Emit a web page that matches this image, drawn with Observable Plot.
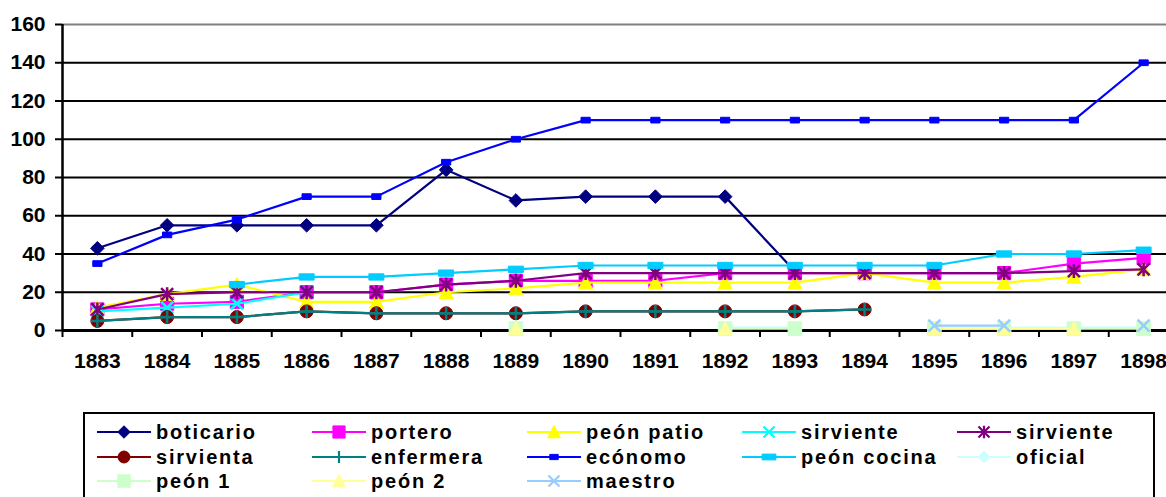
<!DOCTYPE html>
<html>
<head>
<meta charset="utf-8">
<script src="https://cdn.jsdelivr.net/npm/d3@7"></script>
<script src="https://cdn.jsdelivr.net/npm/@observablehq/plot@0.6"></script>
<style>
  html, body { margin: 0; padding: 0; background: #fff; }
  #wrap { position: relative; width: 1166px; height: 497px; overflow: hidden; font-family: "Liberation Sans", Arial, sans-serif; }
  #chart svg { display: block; }
  #legend { position: absolute; left: 83px; top: 412px; width: 1072px; height: 110px; border: 2px solid #000; box-sizing: border-box; }
  .lg-text { position: absolute; font-size: 20px; font-weight: bold; letter-spacing: 1.8px; line-height: 24px; color: #000; white-space: nowrap; }
  .lg-sample { position: absolute; }
</style>
</head>
<body>
<div id="wrap">
  <div id="chart"></div>
  <div id="legend"></div>
</div>
<script>
// ---- data ----
const years = [1883, 1884, 1885, 1886, 1887, 1888, 1889, 1890, 1891, 1892, 1893, 1894, 1895, 1896, 1897, 1898];
const yTicks = [0, 20, 40, 60, 80, 100, 120, 140, 160];

const boticario       = [43, 55, 55, 55, 55, 84, 68, 70, 70, 70, 31, null, null, null, null, null];
const portero         = [11, 14, 15, 20, 20, 24, 26, 26, 26, 30, 30, 30, 30, 30, 35, 38];
const peonPatio       = [12, 19, 24, 15, 15, 20, 22, 25, 25, 25, 25, 30, 25, 25, 28, 32];
const sirvienteCyan   = [10, 12, 14, 20, null, null, null, null, null, null, null, null, null, null, null, null];
const sirvientePurple = [11, 19, 20, 20, 20, 24, 26, 30, 30, 30, 30, 30, 30, 30, 31, 32];
const sirvienta       = [5, 7, 7, 10, 9, 9, 9, 10, 10, 10, 10, 11, null, null, null, null];
const enfermera       = [5, 7, 7, 10, 9, 9, 9, 10, 10, 10, 10, 11, null, null, null, null];
const economo         = [35, 50, 58, 70, 70, 88, 100, 110, 110, 110, 110, 110, 110, 110, 110, 140];
const peonCocina      = [null, null, 24, 28, 28, 30, 32, 34, 34, 34, 34, 34, 34, 40, 40, 42];
const oficial         = [null, null, null, null, null, null, null, null, null, 1.5, 1.5, null, 1.5, 1.5, 1.5, 1.5];
const peon1           = [null, null, null, null, null, null, 1, null, null, 1, 1, null, 1, 1, 1, 1];
const peon2           = [null, null, null, null, null, null, 1, null, null, 1, null, null, 1, 1, 1, null];
const maestro         = [null, null, null, null, null, null, null, null, null, null, null, null, 2.5, 2.5, null, 2.5];

const labels = ["boticario", "portero", "peón patio", "sirviente", "sirviente", "sirvienta", "enfermera", "ecónomo", "peón cocina", "oficial", "peón 1", "peón 2", "maestro"];

// ---- marker shapes ----
const shape = fn => ({ draw(ctx, size) { fn(ctx, Math.sqrt(size / Math.PI)); } });
const fDiamond = (c, r) => { c.moveTo(0, -r); c.lineTo(r, 0); c.lineTo(0, r); c.lineTo(-r, 0); c.closePath(); };
const fSquare = (c, r) => { c.moveTo(-r, -r); c.lineTo(r, -r); c.lineTo(r, r); c.lineTo(-r, r); c.closePath(); };
const fTriangle = (c, r) => { c.moveTo(0, -r); c.lineTo(r, r * 0.9); c.lineTo(-r, r * 0.9); c.closePath(); };
const fTimes = (c, r) => { c.moveTo(-r, -r); c.lineTo(r, r); c.moveTo(r, -r); c.lineTo(-r, r); };
const fAsterisk = (c, r) => { c.moveTo(-r, -r); c.lineTo(r, r); c.moveTo(r, -r); c.lineTo(-r, r); c.moveTo(0, -r * 1.15); c.lineTo(0, r * 1.15); };
const fCircle = (c, r) => { c.moveTo(r, 0); c.arc(0, 0, r, 0, 2 * Math.PI); c.closePath(); };
const fPlus = (c, r) => { c.moveTo(-r, 0); c.lineTo(r, 0); c.moveTo(0, -r); c.lineTo(0, r); };
const fRectSmall = (c, r) => { c.moveTo(-r, -r * 0.62); c.lineTo(r, -r * 0.62); c.lineTo(r, r * 0.62); c.lineTo(-r, r * 0.62); c.closePath(); };
const fRectWide = (c, r) => { c.moveTo(-r, -r * 0.42); c.lineTo(r, -r * 0.42); c.lineTo(r, r * 0.42); c.lineTo(-r, r * 0.42); c.closePath(); };

const series = [
  { values: boticario,       color: "#000080", fn: fDiamond,   r: 6.8, filled: true },
  { values: portero,         color: "#FF00FF", fn: fSquare,    r: 6.6, filled: true },
  { values: peonPatio,       color: "#FFFF00", fn: fTriangle,  r: 7,   filled: true },
  { values: sirvienteCyan,   color: "#00FFFF", fn: fTimes,     r: 6,   filled: false },
  { values: sirvientePurple, color: "#800080", fn: fAsterisk,  r: 6,   filled: false },
  { values: sirvienta,       color: "#800000", fn: fCircle,    r: 6.5, filled: true },
  { values: enfermera,       color: "#008080", fn: fPlus,      r: 6.5, filled: false },
  { values: economo,         color: "#0000FF", fn: fRectSmall, r: 4.6, filled: true },
  { values: peonCocina,      color: "#00CCFF", fn: fRectWide,  r: 7.5, filled: true },
  { values: oficial,         color: "#CCFFFF", fn: fDiamond,   r: 6.5, filled: true },
  { values: peon1,           color: "#CCFFCC", fn: fSquare,    r: 6.8, filled: true },
  { values: peon2,           color: "#FFFF99", fn: fTriangle,  r: 7,   filled: true },
  { values: maestro,         color: "#99CCFF", fn: fTimes,     r: 6,   filled: false }
].map((s, i) => ({ ...s, label: labels[i], rows: years.map((year, j) => ({ year, value: s.values[j] == null ? NaN : s.values[j] })) }));

const bounds = [years[0] - 0.5, ...years.map(y => y + 0.5)];

const marks = [
  Plot.ruleY(yTicks.filter(v => v > yTicks[0] && v < yTicks[yTicks.length - 1]), { stroke: "#000", strokeWidth: 2 }),
  Plot.ruleY([yTicks[yTicks.length - 1]], { stroke: "#808080", strokeWidth: 2 }),
  Plot.axisY(yTicks, { tickSize: 7, tickPadding: 10, strokeWidth: 2, fontSize: 21, fontWeight: "bold", label: null }),
  Plot.axisX(years, { tickSize: 0, tickPadding: 23, tickFormat: d => String(d), fontSize: 21, fontWeight: "bold", label: null }),
  Plot.axisX(bounds, { tickSize: 7, strokeWidth: 2, tickFormat: () => "", label: null }),
  Plot.ruleX([bounds[0]], { stroke: "#000", strokeWidth: 2.5 }),
  Plot.ruleY([yTicks[0]], { stroke: "#000", strokeWidth: 3 })
];

for (const s of series) {
  marks.push(Plot.line(s.rows, { x: "year", y: "value", stroke: s.color, strokeWidth: 2.2 }));
  marks.push(Plot.dot(s.rows, {
    x: "year", y: "value", r: s.r, symbol: shape(s.fn),
    fill: s.filled ? s.color : "none",
    stroke: s.color, strokeWidth: s.filled ? 1 : 2.5
  }));
}

const chart = Plot.plot({
  width: 1166,
  height: 400,
  marginTop: 24,
  marginBottom: 70,
  marginLeft: 62,
  marginRight: 0,
  style: { fontFamily: "'Liberation Sans', Arial, sans-serif", color: "#000", background: "#fff", overflow: "hidden" },
  x: { type: "linear", domain: [bounds[0], bounds[bounds.length - 1]], range: [62, 1178], label: null },
  y: { domain: [yTicks[0], yTicks[yTicks.length - 1]], label: null },
  marks
});
document.getElementById("chart").appendChild(chart);

// ---- legend (HTML below the svg) ----
const wrap = document.getElementById("wrap");
const colX = [156, 371, 586, 801, 1016];
const rowY = [432, 457, 481];
series.forEach((s, i) => {
  const tx = colX[i % 5], ty = rowY[Math.floor(i / 5)];
  const svg = d3.create("svg").attr("class", "lg-sample").attr("width", 62).attr("height", 24)
    .style("left", (tx - 62) + "px").style("top", (ty - 12) + "px");
  svg.append("line").attr("x1", 3).attr("x2", 57).attr("y1", 12).attr("y2", 12)
    .attr("stroke", s.color).attr("stroke-width", 2.2);
  const p = d3.path();
  s.fn(p, s.r * 0.92);
  svg.append("path").attr("d", p.toString()).attr("transform", "translate(30,12)")
    .attr("fill", s.filled ? s.color : "none").attr("stroke", s.color)
    .attr("stroke-width", s.filled ? 1 : 2.2);
  wrap.appendChild(svg.node());
  const t = document.createElement("div");
  t.className = "lg-text";
  t.textContent = s.label;
  t.style.left = tx + "px";
  t.style.top = (ty - 12) + "px";
  wrap.appendChild(t);
});
</script>
</body>
</html>
